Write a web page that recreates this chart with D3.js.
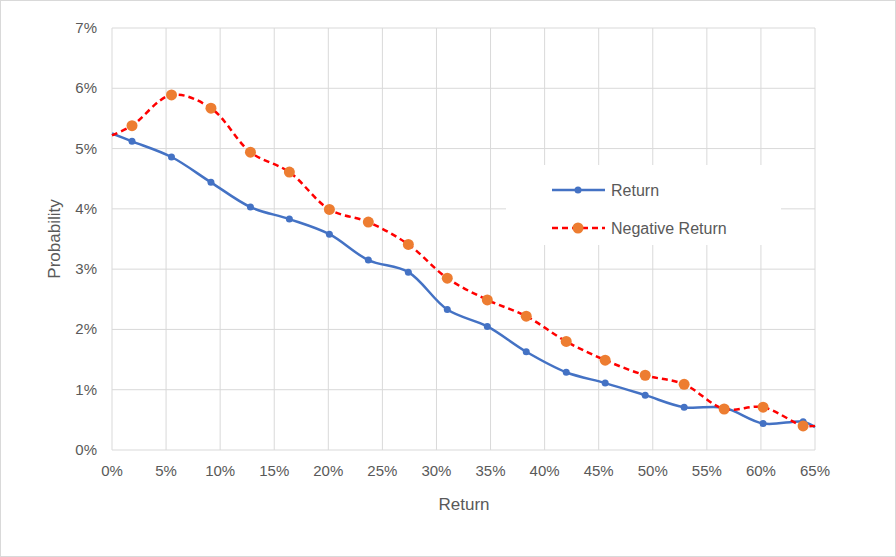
<!DOCTYPE html>
<html><head><meta charset="utf-8">
<script src="https://cdn.jsdelivr.net/npm/d3@7"></script>
<style>
body{margin:0;background:#fff;font-family:"Liberation Sans",Arial,sans-serif;}
</style></head><body>
<svg id="c" width="896" height="557"></svg>
<script>
// x positions (fraction) of the points; first and last have no marker
var xs = [0, 0.0185, 0.055, 0.0915, 0.128, 0.164, 0.201, 0.237, 0.274, 0.310, 0.347, 0.383, 0.420, 0.456, 0.493, 0.529, 0.566, 0.602, 0.639, 0.65];
var returnVals = [0.0525, 0.0512, 0.0486, 0.0444, 0.0403, 0.0383, 0.0358, 0.0315, 0.0295, 0.0233, 0.0205, 0.0163, 0.0129, 0.0111, 0.0091, 0.0071, 0.0070, 0.0044, 0.0047, 0.0038];
var negVals = [0.0522, 0.0538, 0.0589, 0.0567, 0.0494, 0.0461, 0.0399, 0.0378, 0.0341, 0.0285, 0.0249, 0.0222, 0.0180, 0.0149, 0.0124, 0.0109, 0.0068, 0.0071, 0.0040, 0.0040];
var xTicks = d3.range(0, 0.651, 0.05);
var yTicks = d3.range(0, 0.0701, 0.01);

var svg = d3.select("#c");
svg.append("rect").attr("x",0.5).attr("y",0.5).attr("width",895).attr("height",556)
  .attr("fill","#fff").attr("stroke","#d9d9d9");

var x = d3.scaleLinear().domain([0,0.65]).range([112,815]);
var y = d3.scaleLinear().domain([0,0.07]).range([450,28]);

svg.append("g").selectAll("line").data(yTicks).join("line")
  .attr("x1",112).attr("x2",815).attr("y1",d=>y(d)).attr("y2",d=>y(d)).attr("stroke","#d9d9d9");
svg.append("g").selectAll("line").data(xTicks).join("line")
  .attr("y1",28).attr("y2",450).attr("x1",d=>x(d)).attr("x2",d=>x(d)).attr("stroke","#d9d9d9");

svg.append("g").selectAll("text").data(yTicks).join("text")
  .attr("x",97).attr("y",d=>y(d)+5).attr("text-anchor","end")
  .attr("font-size",15).attr("fill","#595959").text(d3.format(".0%"));
svg.append("g").selectAll("text").data(xTicks).join("text")
  .attr("x",d=>x(d)).attr("y",476).attr("text-anchor","middle")
  .attr("font-size",15).attr("fill","#595959").text(d3.format(".0%"));

svg.append("text").attr("x",464).attr("y",510).attr("text-anchor","middle")
  .attr("font-size",17).attr("fill","#595959").text("Return");
svg.append("text").attr("transform","translate(60,239) rotate(-90)").attr("text-anchor","middle")
  .attr("font-size",17).attr("fill","#595959").text("Probability");

var line = d3.line().x(d=>x(d[0])).y(d=>y(d[1])).curve(d3.curveCatmullRom.alpha(0.5));
var ret = xs.map((v,i)=>[v,returnVals[i]]);
var neg = xs.map((v,i)=>[v,negVals[i]]);

svg.append("path").datum(ret).attr("d",line).attr("fill","none").attr("stroke","#4472c4").attr("stroke-width",2.5);
svg.append("g").selectAll("circle").data(ret.slice(1,-1)).join("circle")
  .attr("cx",d=>x(d[0])).attr("cy",d=>y(d[1])).attr("r",3.5).attr("fill","#4472c4");

svg.append("path").datum(neg).attr("d",line).attr("fill","none").attr("stroke","#ff0000")
  .attr("stroke-width",2.5).attr("stroke-dasharray","6,4");
svg.append("g").selectAll("circle").data(neg.slice(1,-1)).join("circle")
  .attr("cx",d=>x(d[0])).attr("cy",d=>y(d[1])).attr("r",5.5).attr("fill","#ed7d31");

// legend
var lg = svg.append("g");
lg.append("rect").attr("x",506).attr("y",165).attr("width",275).attr("height",80).attr("fill","#fff");
lg.append("line").attr("x1",552).attr("x2",605).attr("y1",190).attr("y2",190).attr("stroke","#4472c4").attr("stroke-width",2.5);
lg.append("circle").attr("cx",578).attr("cy",190).attr("r",3.5).attr("fill","#4472c4");
lg.append("text").attr("x",611).attr("y",196).attr("font-size",16).attr("fill","#595959").text("Return");
lg.append("line").attr("x1",552).attr("x2",605).attr("y1",228).attr("y2",228).attr("stroke","#ff0000").attr("stroke-width",2.5).attr("stroke-dasharray","6,4");
lg.append("circle").attr("cx",578).attr("cy",228).attr("r",5.5).attr("fill","#ed7d31");
lg.append("text").attr("x",611).attr("y",234).attr("font-size",16).attr("fill","#595959").text("Negative Return");
</script>
</body></html>
